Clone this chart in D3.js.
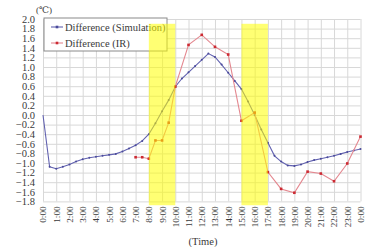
<!DOCTYPE html>
<html>
<head>
<meta charset="utf-8">
<script src="https://cdn.jsdelivr.net/npm/d3@7"></script>
<style>
  body { margin: 0; background: #fff; }
  text { font-family: "Liberation Serif", "DejaVu Serif", serif; fill: #3a3a3a; }
</style>
</head>
<body>
<div id="graph"></div>
<script>
// chart values
var hourLabels = ["0:00","1:00","2:00","3:00","4:00","5:00","6:00","7:00","8:00","9:00",
  "10:00","11:00","12:00","13:00","14:00","15:00","16:00","17:00","18:00","19:00",
  "20:00","21:00","22:00","23:00","0:00"];
var yTicks = [-1.8,-1.6,-1.4,-1.2,-1.0,-0.8,-0.6,-0.4,-0.2,0.0,0.2,0.4,0.6,0.8,1.0,1.2,1.4,1.6,1.8,2.0];

// simulation, every half hour (hours since 0:00)
var simTimes = [0,0.5,1,1.5,2,2.5,3,3.5,4,4.5,5,5.5,6,6.5,7,7.5,8,8.5,9,9.5,10,10.5,11,11.5,
  12,12.5,13,13.5,14,14.5,15,15.5,16,16.5,17,17.5,18,18.5,19,19.5,20,20.5,21,21.5,22,22.5,23,23.5,24];
var simValues = [0.0,-1.08,-1.12,-1.08,-1.03,-0.97,-0.92,-0.89,-0.87,-0.85,-0.83,-0.81,-0.76,-0.70,-0.63,-0.54,
  -0.40,-0.17,0.08,0.31,0.59,0.76,0.89,1.02,1.15,1.28,1.21,1.05,0.88,0.71,0.54,0.28,0.0,-0.30,
  -0.58,-0.85,-0.97,-1.05,-1.06,-1.03,-0.98,-0.94,-0.91,-0.88,-0.85,-0.81,-0.77,-0.74,-0.71];

// infrared measurement
var irTimes = [7,7.5,8,8.5,9,9.5,10,11,12,13,14,15,16,17,18,19,20,21,22,23,24];
var irValues = [-0.88,-0.88,-0.91,-0.53,-0.53,-0.16,0.59,1.46,1.67,1.42,1.26,-0.12,0.05,-1.19,
  -1.54,-1.62,-1.18,-1.22,-1.38,-1.01,-0.45];

// shaded periods [start, end] in hours, and vertical extent
var bandStarts = [8, 15];
var bandEnds = [10, 17];
var bandTop = 1.9, bandBottom = -1.88;

var seriesNames = ["Difference (Simulation)", "Difference (IR)"];

var width = 366, height = 247;
var svg = d3.select('#graph').append('svg')
  .attr('width', width).attr('height', height);

var x = d3.scaleLinear().domain([0, 24]).range([43, 360.5]);
var y = d3.scaleLinear().domain([-1.8, 2.0]).range([201.4, 19]);

// grid + axes
var xAxis = svg.append('g')
  .attr('transform', 'translate(0,' + y(-1.8) + ')')
  .call(d3.axisBottom(x).tickValues(d3.range(hourLabels.length))
    .tickSize(-(y(-1.8) - y(2.0)))
    .tickFormat(function(d, i) { return hourLabels[i]; }));
xAxis.select('.domain').remove();
xAxis.selectAll('line').attr('stroke', '#d8d8d8');
xAxis.selectAll('text')
  .attr('transform', 'rotate(-90)')
  .attr('text-anchor', 'end')
  .attr('x', -5).attr('y', 0).attr('dy', '0.32em')
  .style('font-size', '9.2px');

var yAxis = svg.append('g')
  .attr('transform', 'translate(' + x(0) + ',0)')
  .call(d3.axisLeft(y).tickValues(yTicks)
    .tickSize(-(x(24) - x(0)))
    .tickFormat(d3.format('.1f')));
yAxis.select('.domain').remove();
yAxis.selectAll('line').attr('stroke', '#d8d8d8');
yAxis.selectAll('text')
  .attr('x', -8)
  .style('font-size', '10.5px');

svg.append('text').attr('x', 36).attr('y', 13)
  .style('font-size', '9px').text('(℃)');
svg.append('text').attr('x', 203).attr('y', 245)
  .attr('text-anchor', 'middle')
  .style('font-size', '10.5px').text('(Time)');

// series
var simData = simTimes.map(function(t, i) { return [t, simValues[i]]; });
var irData = irTimes.map(function(t, i) { return [t, irValues[i]]; });
var line = d3.line()
  .x(function(d) { return x(d[0]); })
  .y(function(d) { return y(d[1]); });

svg.append('path').datum(simData)
  .attr('fill', 'none').attr('stroke', '#6262b0').attr('stroke-width', 1.1)
  .attr('d', line);
svg.append('g').selectAll('circle').data(simData.slice(1)).enter()
  .append('circle')
  .attr('cx', function(d) { return x(d[0]); })
  .attr('cy', function(d) { return y(d[1]); })
  .attr('r', 1).attr('fill', '#4a4a9a');

svg.append('path').datum(irData)
  .attr('fill', 'none').attr('stroke', '#e48890').attr('stroke-width', 1.1)
  .attr('d', line);
svg.append('g').selectAll('rect').data(irData).enter()
  .append('rect')
  .attr('x', function(d) { return x(d[0]) - 1.3; })
  .attr('y', function(d) { return y(d[1]) - 1.3; })
  .attr('width', 2.6).attr('height', 2.6).attr('fill', '#cc2a32');

// legend
var legend = svg.append('g');
legend.append('rect').attr('x', 44).attr('y', 18).attr('width', 123).attr('height', 33)
  .attr('fill', '#fff').attr('stroke', '#8a8a8a').attr('stroke-width', 1);
var legendColors = ['#6262b0', '#e48890'];
var markColors = ['#4a4a9a', '#cc2a32'];
seriesNames.forEach(function(name, i) {
  var ly = 27 + i * 16;
  legend.append('line').attr('x1', 51).attr('x2', 63).attr('y1', ly).attr('y2', ly)
    .attr('stroke', legendColors[i]).attr('stroke-width', 1.1);
  legend.append('rect').attr('x', 55.7).attr('y', ly - 1.3).attr('width', 2.6).attr('height', 2.6)
    .attr('fill', markColors[i]);
  legend.append('text').attr('x', 65).attr('y', ly).attr('dy', '0.35em')
    .style('font-size', '10.5px').text(name);
});

// translucent yellow periods drawn over everything
svg.append('g').selectAll('rect').data(bandStarts).enter()
  .append('rect')
  .attr('x', function(d) { return x(d); })
  .attr('width', function(d, i) { return x(bandEnds[i]) - x(d); })
  .attr('y', y(bandTop))
  .attr('height', y(bandBottom) - y(bandTop))
  .attr('fill', '#ffff00').attr('opacity', 0.55);
</script>
</body>
</html>
